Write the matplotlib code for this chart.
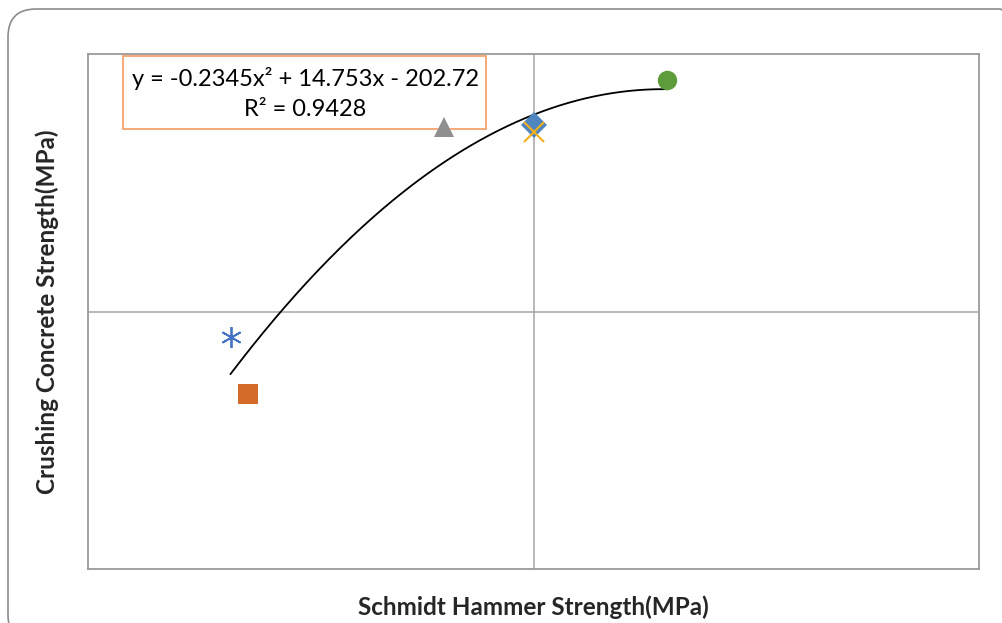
import matplotlib
matplotlib.use("Agg")
import matplotlib.pyplot as plt
import numpy as np
from matplotlib.patches import FancyBboxPatch, Rectangle
from matplotlib.transforms import IdentityTransform

plt.rcParams['font.family'] = ['Lato', 'DejaVu Sans']

# Data points (Schmidt hammer strength, crushing strength)
series_x = [31.5, 30.0, 30.0, 29.0, 26.6, 26.8]
series_y = [29.5, 28.62, 28.49, 28.58, 24.5, 23.4]
markers = ['o', 'D', 'x', '^', '*', 's']
colors = ['#5E9B3B', '#4F86C0', '#F2B01E', '#8F8F8F', '#4472C4', '#D46B28']

# Displayed trendline coefficients (a, b, c)
trend_coef = [-0.2345, 14.753, -202.72]
r_squared = 0.9428

x_limits = [25, 35]
y_limits = [20, 30]

fig = plt.figure(figsize=(10.02, 6.23), dpi=100)
W, H = 1002, 623

# rounded outer border
border = FancyBboxPatch((8, -20), 1020, 614 + 20, boxstyle="round,pad=0,rounding_size=28",
                        transform=IdentityTransform(), fill=False, edgecolor='#8C8C8C',
                        linewidth=1.2, zorder=0)
fig.patches.append(border)

ax = fig.add_axes([88 / W, (H - 569) / H, (979 - 88) / W, (569 - 54) / H])
ax.set_xlim(x_limits)
ax.set_ylim(y_limits)
ax.set_xticks([30])
ax.set_yticks([25])
ax.tick_params(length=0, labelleft=False, labelbottom=False)
ax.grid(True, color='#A6A6A6', linewidth=1.1)
for s in ax.spines.values():
    s.set_color('#9A9A9A')
    s.set_linewidth(1.3)

# trendline across data range
xs = np.linspace(min(series_x), max(series_x), 200)
ys = np.polyval(trend_coef, xs)
ax.plot(xs, ys, color='black', linewidth=1.3, zorder=3)

# equation box (below markers)
box = Rectangle((123, H - 129), 486 - 123, 129 - 56, transform=IdentityTransform(),
                facecolor='white', edgecolor='#F4A46A', linewidth=1.3, zorder=4, clip_on=False)
ax.add_patch(box)
a, b, c0 = trend_coef
ax.text(305 / W, 1 - 78 / H, f"y = {a}x² + {b}x - {abs(c0)}", transform=fig.transFigure,
        ha='center', va='center', fontsize=17, zorder=5)
ax.text(305 / W, 1 - 110 / H, f"R² = {r_squared}", transform=fig.transFigure,
        ha='center', va='center', fontsize=17, zorder=5)

sizes = [14, 13, 14, 15, 15, 14]
for x, y, m, c, s in zip(series_x, series_y, markers, colors, sizes):
    if m in ('x',):
        ax.plot(x, y, marker='x', color=c, markersize=s, markeredgewidth=1.5, linestyle='none', zorder=6)
    elif m == '*':
        ax.plot(x, y, marker=(6, 2, 0), color=c, markersize=s, markeredgewidth=1.3, linestyle='none', zorder=6)
    else:
        ax.plot(x, y, marker=m, color=c, markersize=s, markeredgewidth=0, linestyle='none', zorder=6)

fig.text(533 / W, 1 - 607 / H, "Schmidt Hammer Strength(MPa)", ha='center', va='center',
         fontsize=17.5, fontweight='bold', color='#262626')
fig.text(47 / W, 1 - 312 / H, "Crushing Concrete Strength(MPa)", ha='center', va='center',
         rotation=90, fontsize=17.5, fontweight='bold', color='#262626')

fig.savefig("out.png", dpi=100)
